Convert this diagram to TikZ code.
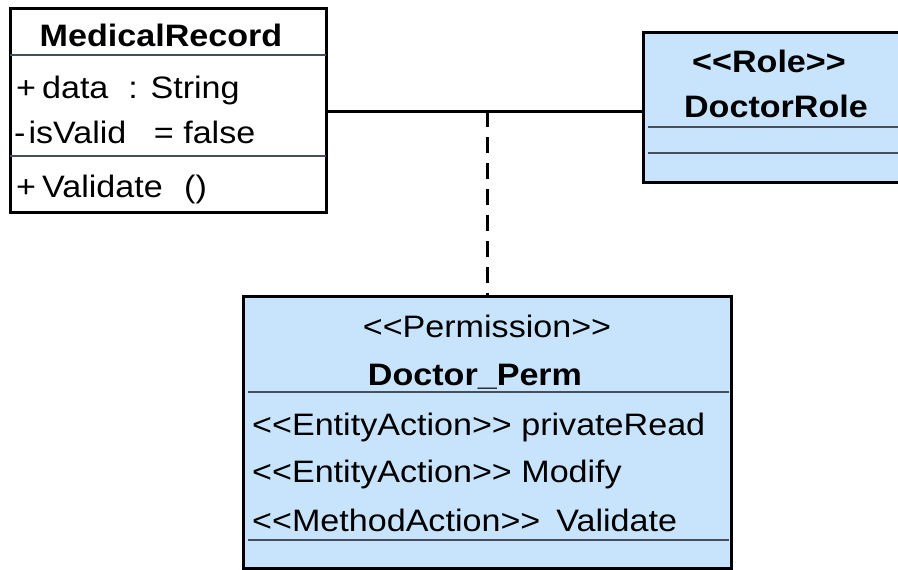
\documentclass[tikz,border=0pt]{standalone}
\usepackage{fontspec}
\setmainfont{Liberation Sans}[FakeStretch=1.1]
\definecolor{umlblue}{RGB}{200,228,252}
\definecolor{sepgray}{RGB}{70,80,90}
\tikzset{
  classbox/.style={draw=black, line width=3pt, inner sep=0pt, outer sep=0pt,
    anchor=north west, rectangle},
  bluebox/.style={classbox, fill=umlblue},
  whitebox/.style={classbox, fill=white},
  sepline/.style={draw=sepgray, line width=1.3pt},
  label/.style={inner sep=0pt, font=\fontsize{31}{36}\selectfont},
  title/.style={label, font=\fontsize{31}{36}\selectfont\bfseries},
  assoc/.style={draw=black, line width=3pt},
  assocclass/.style={draw=black, line width=3pt, dash pattern=on 16pt off 10pt},
}
\begin{document}
\begin{tikzpicture}[x=1pt, y=-1pt]
  \clip (0,0) rectangle (898,570);
  \fill[white] (0,0) rectangle (898,570);

  % MedicalRecord class
  \node[whitebox, minimum width=316pt, minimum height=204pt] (mr) at (10,8) {};
  \draw[sepline] (10,55) -- (326,55);
  \draw[sepline] (10,156) -- (326,156);
  \node[title, anchor=base] (mrName) at (161,46) {MedicalRecord};
  \node[label, anchor=base west] (mrData) at (16,98) {+\kern6pt data\hspace{20pt}: String};
  \node[label, anchor=base west] (mrValid) at (14,143) {-\kern3pt isValid\hspace{18pt} = false};
  \node[label, anchor=base west] (mrOp) at (16,197) {+\kern6pt Validate\hspace{12pt} ()};

  % DoctorRole class
  \node[bluebox, minimum width=280pt, minimum height=150pt] (role) at (643,32) {};
  \draw[sepline] (648,127) -- (910,127);
  \draw[sepline] (648,153) -- (910,153);
  \node[title, anchor=base] (roleSt) at (769,72) {<{}<Role>{}>};
  \node[title, anchor=base] (roleName) at (776,117) {DoctorRole};

  % Doctor_Perm association class
  \node[bluebox, minimum width=488pt, minimum height=272pt] (perm) at (243,296) {};
  \draw[sepline] (248,392) -- (729,392);
  \draw[sepline] (248,540) -- (729,540);
  \node[label, anchor=base] (permSt) at (487,337) {<{}<Permission>{}>};
  \node[title, anchor=base] (permName) at (475,385) {Doctor\_Perm};
  \node[label, anchor=base west] (permA) at (252,435) {<{}<EntityAction>{}> privateRead};
  \node[label, anchor=base west] (permB) at (252,482) {<{}<EntityAction>{}> Modify};
  \node[label, anchor=base west] (permC) at (252,531) {<{}<MethodAction>{}>\hspace{16pt}Validate};

  % association and its association-class link
  \coordinate (mid) at (perm.north |- 0,111);
  \draw[assoc] (mr.east |- mid) -- (role.west |- mid);
  \draw[assocclass] (mid) -- (perm.north);
\end{tikzpicture}
\end{document}
